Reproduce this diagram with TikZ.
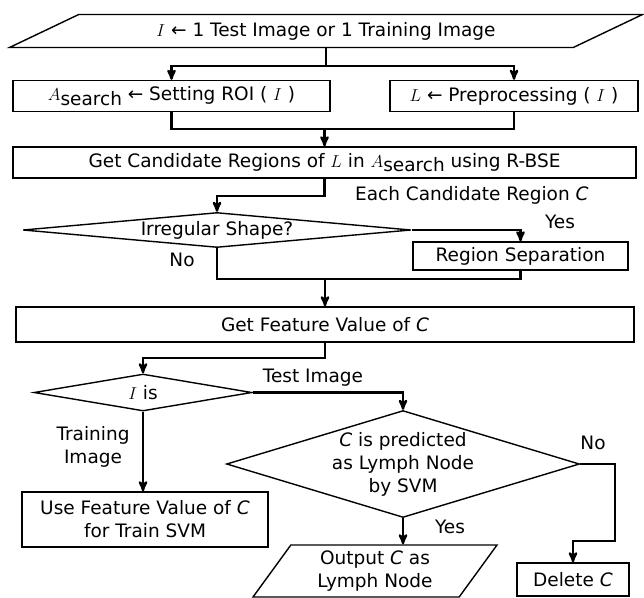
\documentclass[tikz,border=0pt]{standalone}
\usepackage{fontspec}
\setmainfont{DejaVu Sans}
\usetikzlibrary{arrows,calc,positioning,shapes.geometric}

\begin{document}
\begin{tikzpicture}
[
	             x = 1pt,
	             y = -1pt,
	          >= stealth',
	          font = \fontsize{18.5}{23}\selectfont,
	    line width = 2.3pt,
	   box/.style = { draw, rectangle, line width=1.4pt, inner sep=0pt, align=center },
	decision/.style = { draw, diamond, line width=1.4pt, inner sep=0pt, align=center },
	    io/.style = { draw, trapezium, trapezium stretches body, line width=1.4pt, inner sep=0pt, align=center },
	  note/.style = { draw=none, fill=none, align=center }
]
	\useasboundingbox (0,0) rectangle (644,597);

	% main flow
	\node (input) at (326,31)   [io, trapezium left angle=14.5, trapezium right angle=165.5, minimum width=633, minimum height=33]
		{$I$ ← 1 Test Image or 1 Training Image};
	\node (roi)   at (171.5,96) [box, minimum width=317, minimum height=31] {$A$\raisebox{-0.45ex}{search} ← Setting ROI ( $I$ )};
	\node (prep)  at (514,96)   [box, minimum width=248, minimum height=31] {$L$ ← Preprocessing ( $I$ )};
	\node (cand)  at (324.5,162.5) [box, minimum width=623, minimum height=31]
		{Get Candidate Regions of $L$ in $A$\raisebox{-0.45ex}{search} using R-BSE};

	\node (irreg) at (217,230)  [decision, aspect=11, minimum width=388, minimum height=35] {Irregular Shape?};
	\node (sep)   at (520.5,256) [box, minimum width=215, minimum height=28] {Region Separation};
	\node (feat)  at (325,324.5) [box, minimum width=618, minimum height=35] {Get Feature Value of \textit{C}};

	\node (iis)   at (143,392.5) [decision, aspect=6, minimum width=218, minimum height=37] {$I$ is};
	\node (pred)  at (403,464)  [decision, aspect=3.3, minimum width=351, minimum height=106]
		{\textit{C} is predicted\\as Lymph Node\\by SVM};
	\node (train) at (145,519.5) [box, minimum width=246, minimum height=55] {Use Feature Value of \textit{C}\\for Train SVM};
	\node (output) at (375,571) [io, trapezium left angle=47, trapezium right angle=133, minimum width=244, minimum height=52]
		{Output \textit{C} as\\Lymph Node};
	\node (delete) at (573,579.5) [box, minimum width=112, minimum height=33] {Delete \textit{C}};

	% branch labels
	\node (each)  at (593,195)  [note, anchor=east] {Each Candidate Region \textit{C}};
	\node (yes1)  at (560,222)  [note] {Yes};
	\node (no1)   at (182,260)  [note] {No};
	\node (test)  at (313,378)  [note] {Test Image};
	\node (trimg) at (93,447)   [note] {Training\\Image};
	\node (no2)   at (593,443)  [note] {No};
	\node (yes2)  at (450,527)  [note] {Yes};

	% connectors
	\coordinate (fork)   at ($(input.south)+(0,18)$);
	\coordinate (join1)  at ($(cand.north)+(0,-17)$);
	\coordinate (join2)  at ($(feat.north)+(0,-27)$);
	\coordinate (nobend) at ($(pred.east)+(35,77)$);

	\draw (input.south) -- (fork);
	\draw [->] (fork) -| (roi.north);
	\draw [->] (fork) -| (prep.north);
	\draw (roi.south) |- (join1) -| (prep.south);
	\draw [->] (join1) -- (cand.north);
	\draw [->] (cand.south) -- ++(0,17) -| (irreg.north);
	\draw [->] (irreg.east) -| (sep.north);
	\draw (irreg.south) |- (join2) -| (sep.south);
	\draw [->] (join2) -- (feat.north);
	\draw [->] (feat.south) -- ++(0,15) -| (iis.north);
	\draw [->] (iis.east) -| (pred.north);
	\draw [->] (iis.south) -- (iis.south |- train.north);
	\draw [->] (pred.south) -- (pred.south |- output.north);
	\draw [->] (pred.east) -| (nobend) -| (delete.north);

\end{tikzpicture}
\end{document}
